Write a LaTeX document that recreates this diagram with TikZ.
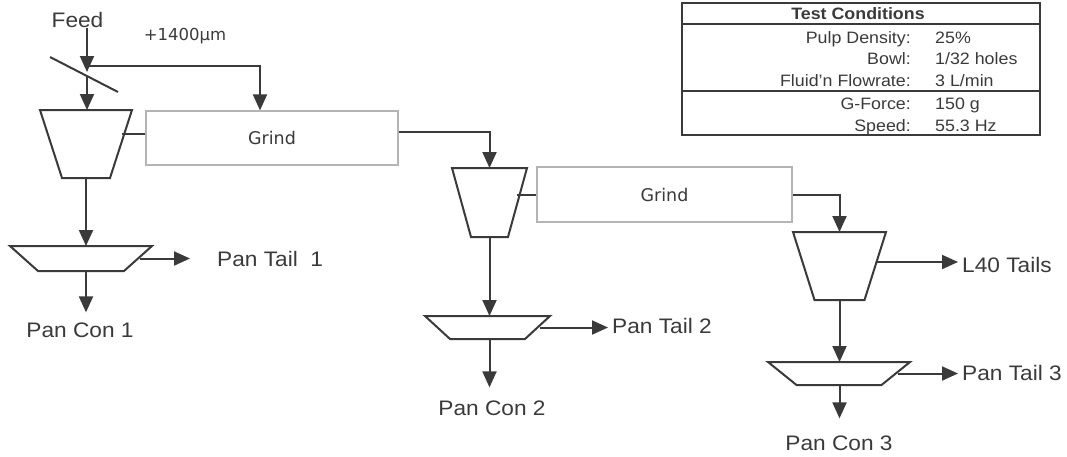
\documentclass[tikz,border=0pt]{standalone}
\usepackage{fontspec}
\setmainfont{Liberation Sans}[FakeStretch=1.08]
\newfontfamily\vfont{DejaVu Sans}
\usetikzlibrary{arrows.meta}
\definecolor{ink}{HTML}{3A3A3A}
\definecolor{boxgray}{HTML}{B4B4B4}
\newcommand{\trapdraw}[2]{%
  \draw[unitline] (#1.north west) -- (#1.north east) -- ([xshift=-#2pt]#1.south east)
    -- ([xshift=#2pt]#1.south west) -- cycle;}
\begin{document}
\begin{tikzpicture}[x=1pt,y=-1pt,
  every node/.style={text=ink},
  conn/.style={draw=ink, line width=2pt},
  arr/.style={conn, -{Triangle[length=16pt,width=14pt]}},
  unitbox/.style={rectangle, inner sep=0pt, outer sep=0pt},
  unitline/.style={draw=ink, line width=2pt, fill=white, line join=miter},
  grindbox/.style={draw=boxgray, line width=1.2pt, fill=white, rectangle, inner sep=0pt,
    font=\vfont\fontsize{17.5}{21}\selectfont},
  lbl/.style={inner sep=0pt, font=\fontsize{21}{25}\selectfont},
  tlbl/.style={inner sep=0pt, font=\fontsize{16.5}{19}\selectfont},
  tbox/.style={draw=ink, line width=2pt, rectangle, inner sep=0pt}
]
\useasboundingbox (0,0) rectangle (1067,456);

% units (bounding boxes, then trapezoids)
\node[unitbox, minimum width=92pt, minimum height=68pt] (cyc1) at (86,144) {};
\node[unitbox, minimum width=75pt, minimum height=69pt] (cyc2) at (489.5,202.5) {};
\node[unitbox, minimum width=93pt, minimum height=68pt] (cyc3) at (839.5,266) {};
\node[unitbox, minimum width=142pt, minimum height=25pt] (pan1) at (81,258.5) {};
\node[unitbox, minimum width=125pt, minimum height=23pt] (pan2) at (487.5,327.5) {};
\node[unitbox, minimum width=142pt, minimum height=23pt] (pan3) at (839,373.5) {};
\trapdraw{cyc1}{22}
\trapdraw{cyc2}{19}
\trapdraw{cyc3}{21.5}
\trapdraw{pan1}{28}
\trapdraw{pan2}{25}
\trapdraw{pan3}{28.5}

\node[grindbox, minimum width=252pt, minimum height=54pt] (grind1) at (272,138) {Grind};
\node[grindbox, minimum width=255pt, minimum height=55pt] (grind2) at (664.5,194.5) {Grind};

% labels
\node[lbl] (feed) at (77.5,20) {Feed};
\node[inner sep=0pt, font=\vfont\fontsize{16.5}{19}\selectfont, anchor=base] (size) at (185,40) {+1400µm};
\node[lbl, anchor=west] (tail1) at (217,259) {Pan Tail~~1};
\node[lbl] (con1) at (80,330) {Pan Con 1};
\node[lbl, anchor=west] (tail2) at (612,326) {Pan Tail 2};
\node[lbl] (con2) at (492,408) {Pan Con 2};
\node[lbl, anchor=west] (l40) at (962,265) {L40 Tails};
\node[lbl, anchor=west] (tail3) at (962,373) {Pan Tail 3};
\node[lbl] (con3) at (839,443) {Pan Con 3};

% screen
\coordinate (scrA) at (50,57);
\coordinate (scrB) at (118,92);
\coordinate (scr) at (87,76);
\coordinate (ovs) at (87,66);
\draw[conn] (scrA) -- (scrB);

% connectors
\draw[arr] (ovs) -| ([xshift=-12pt]grind1.north);
\draw[arr] (feed.south -| scr) -- ([yshift=4pt]scr);
\draw[arr] (scr) -- (cyc1.north -| scr);
\draw[conn] ([yshift=4pt]grind1.west) -- ++(-23,0);
\draw[arr] ([yshift=6pt]grind1.east) -| (cyc2.north);
\draw[arr] (cyc1.south) -- (cyc1.south |- pan1.north);
\draw[arr, shorten >=27pt] ([xshift=-12pt]pan1.east) -- (pan1.east -| tail1.west);
\draw[arr, shorten >=10pt] (pan1.south -| cyc1.south) -- (con1.north -| cyc1.south);

\draw[conn] (grind2.west) -- ++(-19,0);
\draw[arr] (grind2.east) -| (cyc3.north);
\draw[arr] (cyc2.south) -- (cyc2.south |- pan2.north);
\draw[arr, shorten >=4pt] ([xshift=-10pt]pan2.east) -- (pan2.east -| tail2.west);
\draw[arr, shorten >=13pt] (pan2.south -| cyc2.south) -- (con2.north -| cyc2.south);

\draw[arr, shorten >=4pt] ([xshift=-9pt,yshift=4pt]cyc3.east) -- ([yshift=4pt]cyc3.east -| l40.west);
\draw[arr] (cyc3.south) -- (cyc3.south |- pan3.north);
\draw[arr, shorten >=4pt] ([xshift=-12pt]pan3.east) -- (pan3.east -| tail3.west);
\draw[arr, shorten >=17pt] (pan3.south -| cyc3.south) -- (con3.north -| cyc3.south);

% test conditions table
\node[tbox, minimum width=358pt, minimum height=132pt] (tc) at (861,69) {};
\node[tlbl, font=\bfseries\fontsize{16.5}{19}\selectfont] (tct) at (858,14) {Test Conditions};
\draw[draw=ink, line width=2.2pt] (tc.west |- 0,24) -- (tc.east |- 0,24);
\draw[draw=ink, line width=1.6pt] (tc.west |- 0,91) -- (tc.east |- 0,91);
\node[tlbl, anchor=base east] (k1) at (911,43) {Pulp Density:};
\node[tlbl, anchor=base west] (v1) at (935,43) {25\%};
\node[tlbl, anchor=base east] (k2) at (911,64) {Bowl:};
\node[tlbl, anchor=base west] (v2) at (935,64) {1/32 holes};
\node[tlbl, anchor=base east] (k3) at (911,86) {Fluid'n Flowrate:};
\node[tlbl, anchor=base west] (v3) at (935,86) {3 L/min};
\node[tlbl, anchor=base east] (k4) at (911,109) {G-Force:};
\node[tlbl, anchor=base west] (v4) at (935,109) {150 g};
\node[tlbl, anchor=base east] (k5) at (911,131) {Speed:};
\node[tlbl, anchor=base west] (v5) at (935,131) {55.3 Hz};
\end{tikzpicture}
\end{document}
